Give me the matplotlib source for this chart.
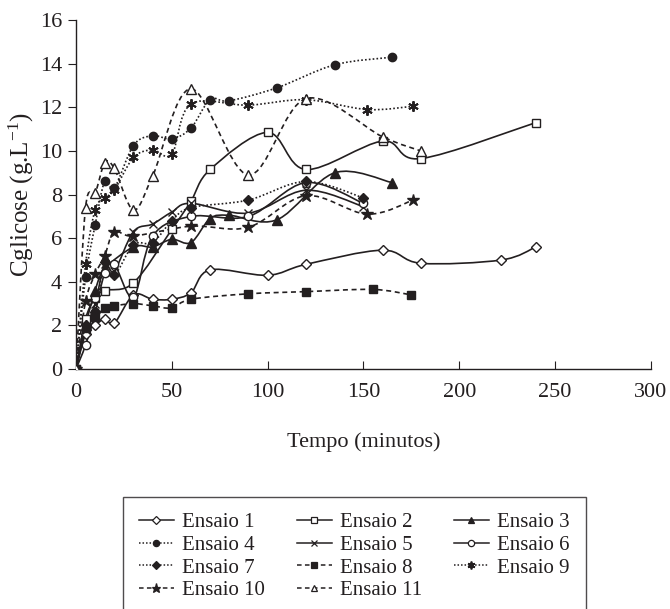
import matplotlib
matplotlib.use("Agg")
import matplotlib.pyplot as plt
from matplotlib.path import Path
from matplotlib.patches import PathPatch
from matplotlib.lines import Line2D

plt.rcParams['font.family'] = ['Liberation Serif', 'DejaVu Serif']
plt.rcParams['mathtext.fontset'] = 'custom'
plt.rcParams['mathtext.rm'] = 'Liberation Serif'
plt.rcParams['mathtext.it'] = 'Liberation Serif:italic'

INK = '#231f20'

# data (tempo em minutos, Cglicose em g/L)
t1 = [0, 5, 10, 15, 20, 30, 40, 50, 60, 70, 100, 120, 160, 180, 222, 240]
c1 = [0, 1.6, 2.0, 2.3, 2.1, 3.4, 3.2, 3.2, 3.5, 4.55, 4.3, 4.8, 5.45, 4.85, 5.0, 5.6]

t2 = [0, 5, 10, 15, 30, 50, 60, 70, 100, 120, 160, 180, 240]
c2 = [0, 2.3, 3.25, 3.6, 3.95, 6.4, 7.7, 9.15, 10.85, 9.15, 10.45, 9.65, 11.3]

t3 = [0, 5, 10, 15, 30, 40, 50, 60, 70, 80, 105, 135, 165]
c3 = [0, 2.0, 3.6, 4.6, 5.6, 5.6, 5.95, 5.8, 6.9, 7.05, 6.85, 9.0, 8.55]

t4 = [0, 5, 10, 15, 20, 30, 40, 50, 60, 70, 80, 105, 135, 165]
c4 = [0, 4.2, 6.6, 8.6, 8.3, 10.25, 10.7, 10.55, 11.05, 12.35, 12.3, 12.9, 13.95, 14.3]

t5 = [0, 5, 10, 15, 20, 30, 40, 50, 60, 90, 120, 150]
c5 = [0, 1.8, 3.0, 4.8, 4.5, 6.3, 6.65, 7.2, 7.6, 7.15, 8.2, 7.45]

t6 = [0, 5, 10, 15, 20, 30, 40, 60, 90, 120, 150]
c6 = [0, 1.1, 2.6, 4.4, 4.8, 3.3, 6.1, 7.0, 7.0, 8.55, 7.6]

t7 = [0, 5, 10, 15, 20, 30, 40, 50, 60, 90, 120, 150]
c7 = [0, 2.0, 2.6, 4.9, 4.3, 5.7, 5.8, 6.8, 7.4, 7.75, 8.6, 7.85]

t8 = [0, 5, 10, 15, 20, 30, 40, 50, 60, 90, 120, 155, 175]
c8 = [0, 1.9, 2.4, 2.8, 2.9, 3.0, 2.9, 2.8, 3.2, 3.45, 3.55, 3.65, 3.4]

t9 = [0, 5, 10, 15, 20, 30, 40, 50, 60, 90, 120, 152, 176]
c9 = [0, 4.8, 7.3, 7.85, 8.2, 9.7, 10.05, 9.85, 12.15, 12.1, 12.35, 11.9, 12.05]

t10 = [0, 5, 10, 15, 20, 30, 60, 90, 120, 152, 176]
c10 = [0, 3.1, 4.35, 5.2, 6.3, 6.1, 6.55, 6.5, 7.95, 7.1, 7.75]

t11 = [0, 5, 10, 15, 20, 30, 40, 60, 90, 120, 160, 180]
c11 = [0, 7.4, 8.05, 9.45, 9.2, 7.3, 8.85, 12.85, 8.9, 12.4, 10.65, 10.0]

names = ['Ensaio %d' % i for i in range(1, 12)]
times = [t1, t2, t3, t4, t5, t6, t7, t8, t9, t10, t11]
concs = [c1, c2, c3, c4, c5, c6, c7, c8, c9, c10, c11]

solid = '-'
dotted = (0, (1, 1.3))
dashed = (0, (3, 2.2))
ASTER = (6, 2, 0)
# (marker, filled, linestyle)
styles = [
    ('D', False, solid),
    ('s', False, solid),
    ('^', True, solid),
    ('o', True, dotted),
    ('x', True, solid),
    ('o', False, solid),
    ('D', True, dotted),
    ('s', True, dashed),
    (ASTER, True, dotted),
    ('*', True, dashed),
    ('^', False, dashed),
]


def msize(mk):
    if mk == ASTER:
        return 7.5
    return {'D': 5.5, 's': 6, '^': 6.5, 'o': 6, 'x': 6, '*': 9}[mk]


def smooth_path(x, y):
    # Excel-like smoothed line: cubic bezier through each pair of points
    n = len(x)
    verts = [(x[0], y[0])]
    codes = [Path.MOVETO]
    for i in range(n - 1):
        x0, y0 = x[max(i - 1, 0)], y[max(i - 1, 0)]
        x3, y3 = x[min(i + 2, n - 1)], y[min(i + 2, n - 1)]
        c1 = (x[i] + (x[i + 1] - x0) / 6.0, y[i] + (y[i + 1] - y0) / 6.0)
        c2 = (x[i + 1] - (x3 - x[i]) / 6.0, y[i + 1] - (y3 - y[i]) / 6.0)
        verts += [c1, c2, (x[i + 1], y[i + 1])]
        codes += [Path.CURVE4] * 3
    return Path(verts, codes)


fig = plt.figure(figsize=(6.7, 6.09), dpi=100)
ax = fig.add_axes([0.1134, 0.394, 0.858, 0.573])

handles = []
for name, tt, cc, (mk, filled, ls) in zip(names, times, concs, styles):
    patch = PathPatch(smooth_path(tt, cc), fill=False, edgecolor=INK,
                      linewidth=1.2, linestyle=ls, zorder=2)
    ax.add_patch(patch)
    face = INK if filled else 'white'
    mew = 1.4 if mk == ASTER else 1.0
    ax.plot(tt, cc, linestyle='none', marker=mk, markersize=msize(mk),
            markerfacecolor=face, markeredgecolor=INK, markeredgewidth=mew,
            zorder=3)
    handles.append(Line2D([], [], color=INK, linewidth=1.1, linestyle=ls,
                          marker=mk, markersize=msize(mk) * 0.75,
                          markerfacecolor=face, markeredgecolor=INK,
                          markeredgewidth=mew * 0.9, label=name))

ax.set_xlim(0, 300)
ax.set_ylim(0, 16)
ax.set_xticks(range(0, 301, 50))
ax.set_yticks(range(0, 17, 2))
ax.spines['top'].set_visible(False)
ax.spines['right'].set_visible(False)
for s in ['left', 'bottom']:
    ax.spines[s].set_color(INK)
    ax.spines[s].set_linewidth(1.0)
ax.tick_params(axis='x', direction='in', length=6, colors=INK, labelsize=16, pad=10)
ax.tick_params(axis='y', direction='out', length=6, colors=INK, labelsize=16, pad=4)
ax.set_xlabel('Tempo (minutos)', fontsize=16, color=INK, labelpad=22)
ax.set_ylabel(r'Cglicose (g.L$^{-1}$)', fontsize=18, color=INK, labelpad=3)

# legend fills row-wise in the reference: reorder for column-wise fill
order = [0, 3, 6, 9, 1, 4, 7, 10, 2, 5, 8]
leg = fig.legend([handles[i] for i in order], [names[i] for i in order],
                 ncol=3, loc='upper left', bbox_to_anchor=(0.1836, 0.184),
                 borderaxespad=0, fontsize=15, frameon=True, fancybox=False,
                 edgecolor=INK, handlelength=1.7, handletextpad=0.4,
                 columnspacing=1.5, labelspacing=0.15, borderpad=0.75)
leg.get_frame().set_linewidth(1.0)
for txt in leg.get_texts():
    txt.set_color(INK)

fig.savefig('out.png', dpi=100)
plt.close(fig)
